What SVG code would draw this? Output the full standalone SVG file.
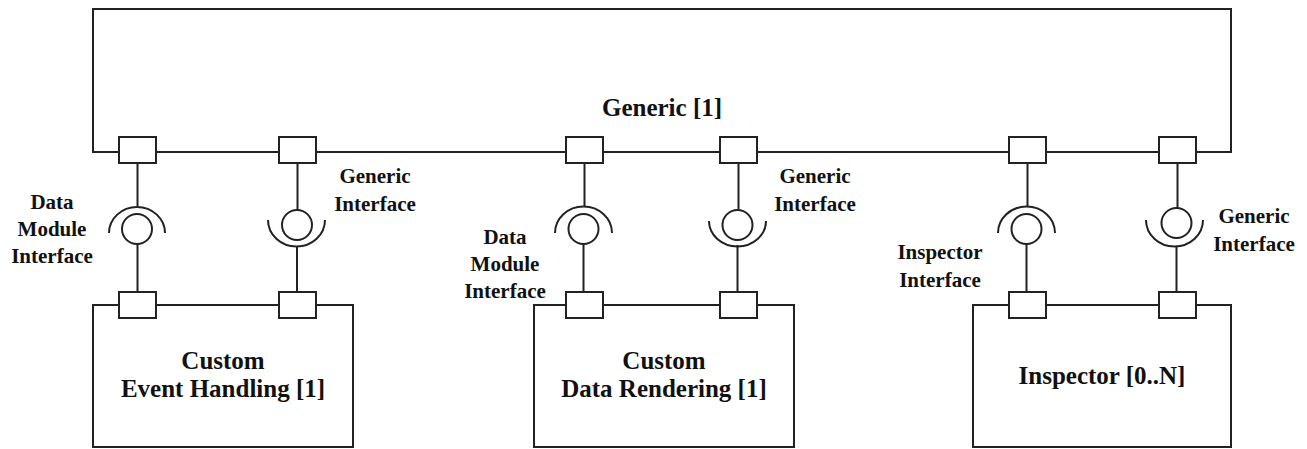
<svg xmlns="http://www.w3.org/2000/svg" width="1307" height="449" viewBox="0 0 1307 449">
  <style>
    .box { fill: #fff; stroke: #222; stroke-width: 2; }
    .port { fill: #fff; stroke: #222; stroke-width: 2; }
    .wire { fill: none; stroke: #222; stroke-width: 2; }
    .title { font-family: "Liberation Serif", "Times New Roman", serif; font-weight: bold; font-size: 25px; fill: #111; text-anchor: middle; }
    .lbl { font-family: "Liberation Serif", "Times New Roman", serif; font-weight: bold; font-size: 21px; fill: #111; text-anchor: middle; }
  </style>
  <rect width="1307" height="449" fill="#fff"/>

  <!-- Generic component -->
  <g id="generic">
    <rect class="box" x="93" y="9" width="1138" height="143"/>
    <text class="title" x="662" y="116">Generic [1]</text>
    <rect class="port" x="119" y="137" width="37" height="26"/>
    <rect class="port" x="279" y="137" width="37" height="26"/>
    <rect class="port" x="566" y="137" width="37" height="26"/>
    <rect class="port" x="720" y="137" width="37" height="26"/>
    <rect class="port" x="1009" y="137" width="37" height="26"/>
    <rect class="port" x="1159" y="137" width="37" height="26"/>
  </g>

  <!-- Custom Event Handling component -->
  <g id="event-handling">
    <rect class="box" x="93" y="305" width="260" height="142"/>
    <text class="title" x="223" y="369">Custom</text>
    <text class="title" x="223" y="397">Event Handling [1]</text>
    <rect class="port" x="119" y="292" width="37" height="26"/>
    <rect class="port" x="279" y="292" width="37" height="26"/>
  </g>

  <!-- Custom Data Rendering component -->
  <g id="data-rendering">
    <rect class="box" x="534" y="305" width="260" height="142"/>
    <text class="title" x="664" y="369">Custom</text>
    <text class="title" x="664" y="397">Data Rendering [1]</text>
    <rect class="port" x="566" y="292" width="37" height="26"/>
    <rect class="port" x="720" y="292" width="37" height="26"/>
  </g>

  <!-- Inspector component -->
  <g id="inspector">
    <rect class="box" x="973" y="305" width="258" height="142"/>
    <text class="title" x="1102" y="384">Inspector [0..N]</text>
    <rect class="port" x="1009" y="292" width="37" height="26"/>
    <rect class="port" x="1159" y="292" width="37" height="26"/>
  </g>

  <!-- Ball-and-socket connectors -->
  <g id="connectors">
    <!-- Data Module Interface: Generic -> Event Handling -->
    <g id="c1">
      <path class="wire" d="M137.5,163 V206 M137.5,244 V292"/>
      <path class="wire" d="M109,233 A28,26 0 0 1 165,233"/>
      <circle class="wire" cx="137" cy="229" r="15"/>
    </g>
    <!-- Generic Interface: Event Handling -> Generic -->
    <g id="c2">
      <path class="wire" d="M297.5,163 V210 M297,246 V292"/>
      <path class="wire" d="M268,220 A28,26 0 0 0 325,220"/>
      <circle class="wire" cx="297" cy="225" r="15"/>
    </g>
    <!-- Data Module Interface: Generic -> Data Rendering -->
    <g id="c3">
      <path class="wire" d="M584.5,163 V206 M583.5,244 V292"/>
      <path class="wire" d="M555,233 A28,26 0 0 1 612,233"/>
      <circle class="wire" cx="583.5" cy="229" r="15"/>
    </g>
    <!-- Generic Interface: Data Rendering -> Generic -->
    <g id="c4">
      <path class="wire" d="M738.5,163 V209 M737.5,245 V292"/>
      <path class="wire" d="M709,221 A28,25 0 0 0 766,221"/>
      <circle class="wire" cx="737.5" cy="225" r="15"/>
    </g>
    <!-- Inspector Interface: Generic -> Inspector -->
    <g id="c5">
      <path class="wire" d="M1027.5,163 V206 M1026.5,244 V292"/>
      <path class="wire" d="M998,233 A28,26 0 0 1 1055,233"/>
      <circle class="wire" cx="1026.5" cy="229" r="15"/>
    </g>
    <!-- Generic Interface: Inspector -> Generic -->
    <g id="c6">
      <path class="wire" d="M1177.5,163 V208 M1176.5,246 V292"/>
      <path class="wire" d="M1146,220 A28,26 0 0 0 1203,220"/>
      <circle class="wire" cx="1176.5" cy="223" r="15"/>
    </g>
  </g>

  <!-- Interface labels -->
  <g id="labels">
    <text class="lbl" x="52" y="209">Data</text>
    <text class="lbl" x="52" y="236">Module</text>
    <text class="lbl" x="52" y="263">Interface</text>

    <text class="lbl" x="375" y="183">Generic</text>
    <text class="lbl" x="375" y="211">Interface</text>

    <text class="lbl" x="505" y="244">Data</text>
    <text class="lbl" x="505" y="271">Module</text>
    <text class="lbl" x="505" y="298">Interface</text>

    <text class="lbl" x="815" y="183">Generic</text>
    <text class="lbl" x="815" y="211">Interface</text>

    <text class="lbl" x="940" y="259">Inspector</text>
    <text class="lbl" x="940" y="287">Interface</text>

    <text class="lbl" x="1254" y="223">Generic</text>
    <text class="lbl" x="1254" y="251">Interface</text>
  </g>
</svg>
